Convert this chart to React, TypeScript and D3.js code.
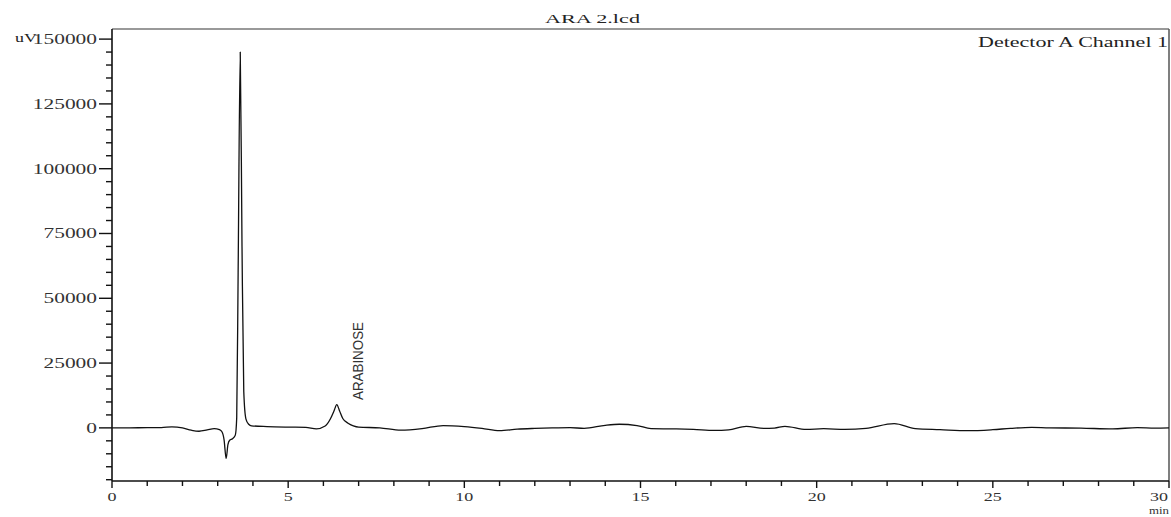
import React from "react";
import { scaleLinear, line, curveMonotoneX, range } from "d3";

// chromatogram trace (min, uV)
const retentionTimes = [
  0, 0.5, 1.0, 1.4, 1.7, 2.0, 2.25, 2.47, 2.7, 2.9, 3.05, 3.12, 3.18, 3.24, 3.29, 3.34, 3.42, 3.5,
  3.54, 3.58, 3.64, 3.69, 3.74, 3.8, 3.88, 3.96, 4.4, 5.0, 5.5, 5.8, 6.05, 6.2, 6.3, 6.38, 6.46,
  6.55, 6.7, 6.85, 7.0, 7.6, 8.2, 8.8, 9.4, 10.0, 10.5, 11.0, 11.5, 12.0, 12.5, 13.0, 13.4, 14.0,
  14.4, 14.9, 15.3, 16.0, 16.5, 17.1, 17.5, 18.0, 18.5, 18.8, 19.1, 19.7, 20.2, 20.8, 21.4, 22.2,
  22.8, 23.5, 24.3, 25.0, 25.5, 26.1, 26.6, 27.5, 28.4, 29.1, 29.6, 30.0,
];
const signal = [
  0, 0, 100, 100, 400, 0, -900, -1300, -800, -300, -700, -1500, -4500, -11800, -6500, -4800, -4200, -2800,
  4000, 60000, 145000, 70000, 14000, 3500, 1400, 800, 500, 300, 200, -400, 700, 3500, 6500, 9000, 6500,
  3600, 1800, 800, 300, 0, -900, -300, 900, 500, -200, -1100, -500, -200, 0, 100, -200, 1000,
  1400, 900, -300, -400, -600, -1000, -800, 600, -200, -100, 600, -600, -300, -600, -200, 1600,
  -300, -700, -1100, -700, -200, 200, 0, -100, -400, 100, -100, 0,
];

const yTickLabels = ["150000", "125000", "100000", "75000", "50000", "25000", "0"];
const xTickLabels = ["0", "5", "10", "15", "20", "25", "30"];
const peakNames = ["ARABINOSE"];
const peakTimes = [6.38];

const App = () => {
  const width = 1171;
  const height = 517;
  const left = 112;
  const right = 1169;
  const top = 29;
  const bottom = 481;

  const x = scaleLinear().domain([0, 30]).range([left, right]);
  const y = scaleLinear().domain([-20500, 153900]).range([bottom, top]);

  const trace = line<number>()
    .x((d, i) => x(retentionTimes[i]))
    .y((d) => y(d))
    .curve(curveMonotoneX)(signal);

  const serif = "'Liberation Serif', 'DejaVu Serif', serif";

  return (
    <svg
      width={width}
      height={height}
      style={{ position: "absolute", left: 0, top: 0, background: "#fff" }}
    >
      {/* title */}
      <text x={545} y={23} fontFamily={serif} fontSize={13} textLength={95} lengthAdjust="spacingAndGlyphs" fill="#222">
        ARA 2.lcd
      </text>
      <text x={978} y={47} fontFamily={serif} fontSize={14} textLength={190} lengthAdjust="spacingAndGlyphs" fill="#222">
        Detector A Channel 1
      </text>
      <text x={15} y={42} fontFamily={serif} fontSize={12} textLength={22} lengthAdjust="spacingAndGlyphs" fill="#222">
        uV
      </text>

      {/* frame */}
      <line x1={left} x2={right} y1={top} y2={top} stroke="#777" strokeWidth={1.5} />
      <line x1={right} x2={right} y1={top} y2={bottom} stroke="#555" strokeWidth={1.5} />

      {/* y axis */}
      <line x1={left} x2={left} y1={top} y2={bottom} stroke="#111" strokeWidth={1.6} />
      {range(-20000, 150001, 5000).map((v) => (
        <line key={"yt" + v} x1={left} x2={v % 25000 === 0 ? left - 13 : left - 6} y1={y(v)} y2={y(v)} stroke="#111" strokeWidth={1.4} />
      ))}
      {yTickLabels.map((t) => {
        const w = t.length * 10.7;
        return (
          <text key={"yl" + t} x={97 - w} y={y(+t) + 5} fontFamily={serif} fontSize={15} textLength={w} lengthAdjust="spacingAndGlyphs" fill="#333">
            {t}
          </text>
        );
      })}

      {/* x axis */}
      <line x1={left} x2={right} y1={bottom} y2={bottom} stroke="#111" strokeWidth={1.6} />
      {range(0, 31, 1).map((v) => (
        <line key={"xt" + v} x1={x(v)} x2={x(v)} y1={bottom} y2={bottom + (v % 5 === 0 ? 7 : 5)} stroke="#111" strokeWidth={1.4} />
      ))}
      {xTickLabels.map((t) => {
        const w = t.length * 9;
        const cx = t === "30" ? right - w / 2 - 1 : x(+t);
        return (
          <text key={"xl" + t} x={cx - w / 2} y={501} fontFamily={serif} fontSize={12} textLength={w} lengthAdjust="spacingAndGlyphs" fill="#333">
            {t}
          </text>
        );
      })}
      <text x={1149} y={514} fontFamily={serif} fontSize={11} textLength={20} lengthAdjust="spacingAndGlyphs" fill="#333">
        min
      </text>

      {/* trace */}
      <path d={trace ?? ""} fill="none" stroke="#111" strokeWidth={1.3} strokeLinejoin="round" />

      {/* peak labels */}
      {peakNames.map((name, i) => (
        <text
          key={name}
          transform={`translate(${x(peakTimes[i]) + 26},400) rotate(-90)`}
          fontFamily="'Liberation Sans Narrow', 'Liberation Sans', sans-serif"
          fontSize={15}
          textLength={78}
          lengthAdjust="spacingAndGlyphs"
          fill="#333"
        >
          {name}
        </text>
      ))}
    </svg>
  );
};

export default App;
